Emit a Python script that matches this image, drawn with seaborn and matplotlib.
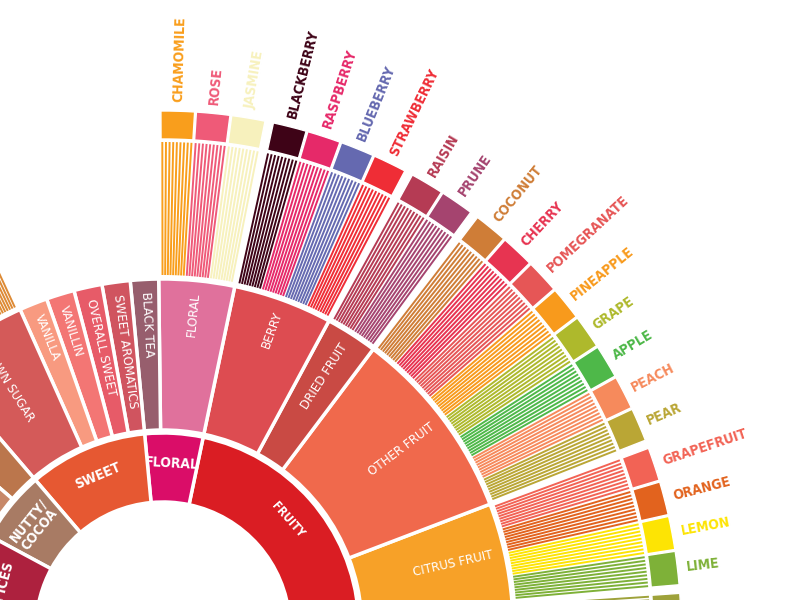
import numpy as np
import matplotlib
matplotlib.use("Agg")
import matplotlib.pyplot as plt
import seaborn as sns
from matplotlib.patches import Wedge
from matplotlib.collections import LineCollection

# ---------------- data: coffee flavour wheel (counter-clockwise order) ----------------
level1_names = ["", "FRUITY", "FLORAL", "SWEET", "NUTTY/\nCOCOA", "SPICES"]
level1_colors = ["#B9A73A", "#DA1D23", "#DA0D68", "#E65832", "#A87B64", "#AD213E"]

level2_names = ["SOUR", "CITRUS FRUIT", "OTHER FRUIT", "DRIED FRUIT", "BERRY", "FLORAL",
                "BLACK TEA", "SWEET AROMATICS", "OVERALL SWEET", "VANILLIN", "VANILLA",
                "BROWN SUGAR", "COCOA", "NUTTY", "BROWN SPICE", "PEPPER", "PUNGENT"]
level2_parent = [0, 1, 1, 1, 1, 2, 2, 3, 3, 3, 3, 3, 4, 4, 5, 5, 5]
level2_colors = ["#E1C315", "#F7A128", "#F0694C", "#C94A44", "#DD4C51", "#E0719C",
                 "#975E6D", "#D0545F", "#E75B68", "#F37674", "#F89A80",
                 "#D45A59", "#BB764C", "#C78869", "#B14D57", "#794752", "#8B3A52"]

leaf_names = ["", "", "LIME", "LEMON", "ORANGE", "GRAPEFRUIT",
              "PEAR", "PEACH", "APPLE", "GRAPE", "PINEAPPLE", "POMEGRANATE", "CHERRY", "COCONUT",
              "PRUNE", "RAISIN", "STRAWBERRY", "BLUEBERRY", "RASPBERRY", "BLACKBERRY",
              "JASMINE", "ROSE", "CHAMOMILE", "HONEY", "CARAMELIZED", "MAPLE SYRUP", "MOLASSES",
              "DARK CHOCOLATE", "CHOCOLATE", "ALMOND", "HAZELNUT", "PEANUTS",
              "CLOVE", "CINNAMON", "NUTMEG", "ANISE"]
leaf_parent = [0, 0, 1, 1, 1, 1, 2, 2, 2, 2, 2, 2, 2, 2, 3, 3, 4, 4, 4, 4,
               5, 5, 5, 11, 11, 11, 11, 12, 12, 13, 13, 13, 14, 14, 14, 14]
leaf_colors = ["#94A76F", "#9EA23A", "#7EB138", "#FDE404", "#E2631E", "#F26355",
               "#BAA635", "#F68A5C", "#4EB849", "#AEB92C", "#F89A1C", "#E65656", "#E73451", "#CF7D37",
               "#A5446F", "#B53B54", "#EF2D36", "#6569B0", "#E62969", "#3E0317",
               "#F7F1BD", "#EF5A78", "#F99E1C", "#DD8A35", "#D0763E", "#C15B32", "#3A1C15",
               "#470604", "#692A19", "#C89F83", "#9D5433", "#D4AD12",
               "#A16C5A", "#E1703B", "#DE8C68", "#C78936"]

# ---------------- geometry ----------------
CX, CY = 163, -29                  # wheel centre (pixels, y up)
R1 = (127, 196)                    # inner ring
R2 = (199, 350)                    # second ring
R3 = (354, 487)                    # striped ring
R4 = (490, 518)                    # colour squares
UNIT = 3.93                        # degrees per leaf
GAP = 0.75                         # gap between groups
START = 4.8 - GAP - 2 * UNIT

sns.set_theme(style="white")
plt.rcParams["font.family"] = ["DejaVu Sans"]
plt.rcParams["font.stretch"] = "condensed"

sizes = [max(1, leaf_parent.count(i)) for i in range(len(level2_names))]
l2_span, leaf_span = [], {}
cur = START
for i, n in enumerate(sizes):
    l2_span.append((cur - GAP / 2, cur + n * UNIT + GAP / 2))
    kids = [k for k, p in enumerate(leaf_parent) if p == i]
    for j, k in enumerate(kids):
        leaf_span[k] = (cur + j * UNIT, cur + (j + 1) * UNIT)
    cur += n * UNIT + GAP

l1_span = []
for i in range(len(level1_names)):
    sp = [l2_span[j] for j, p in enumerate(level2_parent) if p == i]
    l1_span.append((min(s[0] for s in sp), max(s[1] for s in sp)))


def polar(r, deg):
    a = np.radians(deg)
    return CX + r * np.cos(a), CY + r * np.sin(a)


def radial_text(ax, r, deg, s, color, size, outward=True, **kw):
    x, y = polar(r, deg)
    if deg <= 90:
        rot, ha = deg, ("left" if outward else "right")
    else:
        rot, ha = deg - 180, ("right" if outward else "left")
    ax.text(x, y, s, rotation=rot, ha=ha, va="center", rotation_mode="anchor",
            color=color, fontsize=size, fontstretch="condensed", **kw)


fig = plt.figure(figsize=(8, 6), dpi=100)
ax = fig.add_axes([0, 0, 1, 1])
ax.set_xlim(0, 800)
ax.set_ylim(0, 600)
ax.axis("off")

# inner ring
for name, col, (t0, t1) in zip(level1_names, level1_colors, l1_span):
    ax.add_patch(Wedge((CX, CY), R1[1], t0, t1, width=R1[1] - R1[0],
                       facecolor=col, edgecolor="white", linewidth=2.5))
    mid = (t0 + t1) / 2
    x, y = polar(166, mid)
    fs = 8.5 if name == "FRUITY" else 10
    ax.text(x, y, name, rotation=mid - 90, ha="center", va="center",
            rotation_mode="anchor", color="white", fontsize=fs, fontweight="bold",
            fontstretch="condensed", linespacing=1.0)

# second ring
for name, col, (t0, t1) in zip(level2_names, level2_colors, l2_span):
    ax.add_patch(Wedge((CX, CY), R2[1], t0, t1, width=R2[1] - R2[0],
                       facecolor=col, edgecolor="white", linewidth=2.5))
    if name != "SOUR":
        radial_text(ax, 338, (t0 + t1) / 2, name, "white", 9.5, outward=False)

# striped ring + squares + labels
segs, seg_cols = [], []
for k, (t0, t1) in leaf_span.items():
    col = leaf_colors[k]
    for a in np.linspace(t0 + 0.25, t1 - 0.25, 9):
        segs.append([polar(R3[0], a), polar(R3[1], a)])
        seg_cols.append(col)
    ax.add_patch(Wedge((CX, CY), R4[1], t0 + 0.1, t1 - 0.1, width=R4[1] - R4[0],
                       facecolor=col, edgecolor="white", linewidth=1.0))
    if leaf_names[k]:
        radial_text(ax, 527, (t0 + t1) / 2, leaf_names[k], col, 10, fontweight="bold")
ax.add_collection(LineCollection(segs, colors=seg_cols, linewidths=1.4))

fig.savefig("out.png", dpi=100)
